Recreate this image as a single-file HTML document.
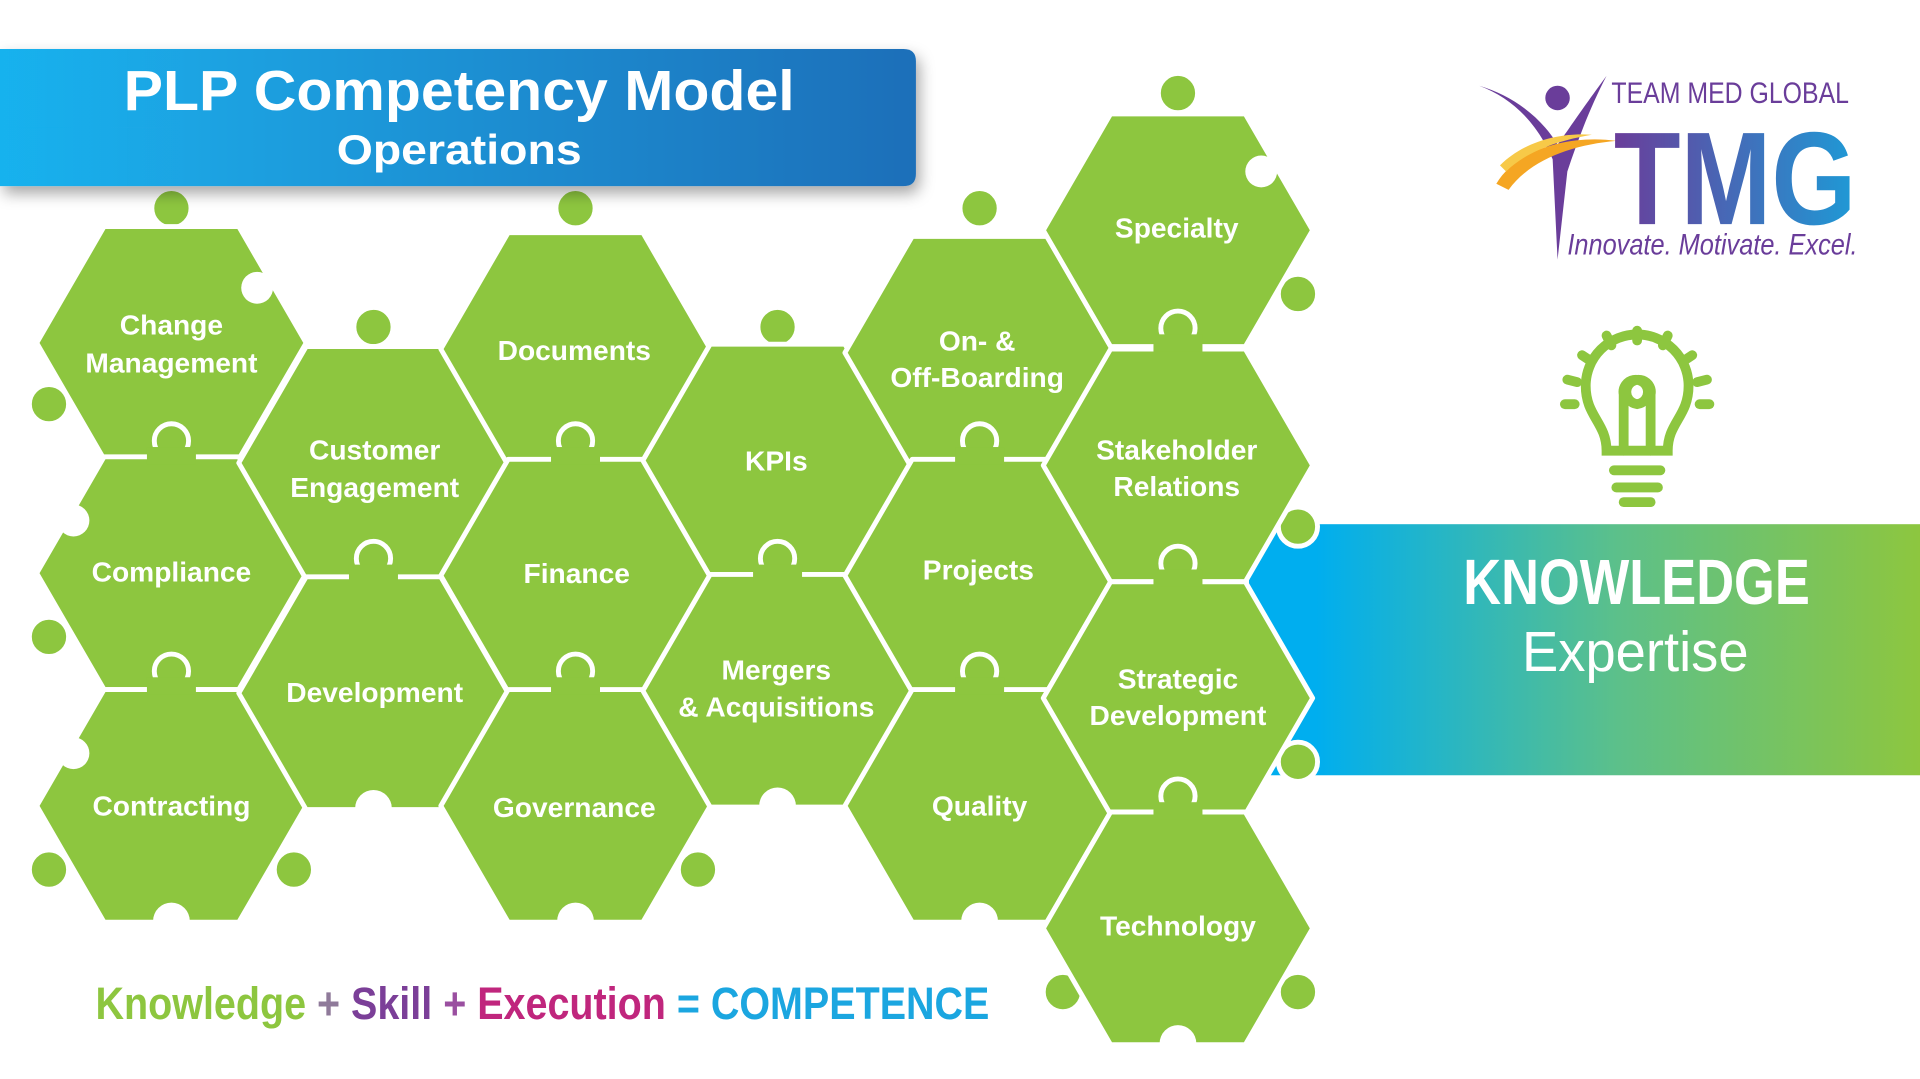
<!DOCTYPE html>
<html><head><meta charset="utf-8"><style>
html,body{margin:0;padding:0;background:#fff;}
svg{display:block}
</style></head><body>
<svg width="1920" height="1079" viewBox="0 0 1568 881" preserveAspectRatio="none" xmlns="http://www.w3.org/2000/svg">
<defs>
<linearGradient id="bn" x1="0" y1="0" x2="1" y2="0"><stop offset="0" stop-color="#19b2ee"/><stop offset="1" stop-color="#1e6fb9"/></linearGradient>
<linearGradient id="kb" x1="0" y1="0" x2="1" y2="0"><stop offset="0" stop-color="#00aeef"/><stop offset="0.1" stop-color="#00aeef"/><stop offset="0.55" stop-color="#5cc08a"/><stop offset="1" stop-color="#8dc63f"/></linearGradient>
<filter id="sh" x="-5%" y="-20%" width="115%" height="150%"><feDropShadow dx="3" dy="6" stdDeviation="6" flood-color="#000" flood-opacity="0.35"/></filter>
<linearGradient id="tm" x1="0" y1="0" x2="1" y2="0"><stop offset="0" stop-color="#6a3d9a"/><stop offset="1" stop-color="#1e9ad6"/></linearGradient>
</defs>

<rect x="1020" y="428" width="548" height="205" fill="url(#kb)"/>

<g fill="#8dc63f" stroke="#fff" stroke-width="4" stroke-linejoin="round">
<circle cx="140" cy="170" r="16"/><circle cx="470" cy="170" r="16"/><circle cx="800" cy="170" r="16"/><circle cx="962" cy="76" r="16"/>
<circle cx="305" cy="267" r="16"/><circle cx="635" cy="267" r="16"/>
<circle cx="1060" cy="240" r="16"/><circle cx="1060" cy="430" r="16"/><circle cx="1060" cy="622" r="16"/><circle cx="1060" cy="810" r="16"/>
<circle cx="40" cy="330" r="16"/><circle cx="40" cy="520" r="16"/><circle cx="40" cy="710" r="16"/>
<circle cx="240" cy="710" r="16"/><circle cx="570" cy="710" r="16"/><circle cx="868" cy="810" r="16"/>
<polygon points="30,280 85,185 195,185 250,280 195,375 85,375"/>
<polygon points="30,468 85,373 195,373 250,468 195,563 85,563"/>
<polygon points="30,658 85,563 195,563 250,658 195,753 85,753"/>
<polygon points="195,378 250,283 360,283 415,378 360,473 250,473"/>
<polygon points="195,566 250,471 360,471 415,566 360,661 250,661"/>
<polygon points="360,285 415,190 525,190 580,285 525,380 415,380"/>
<polygon points="360,470 415,375 525,375 580,470 525,565 415,565"/>
<polygon points="360,658 415,563 525,563 580,658 525,753 415,753"/>
<polygon points="525,376 580,281 690,281 745,376 690,471 580,471"/>
<polygon points="525,564 580,469 690,469 745,564 690,659 580,659"/>
<polygon points="690,288 745,193 855,193 910,288 855,383 745,383"/>
<polygon points="690,470 745,375 855,375 910,470 855,565 745,565"/>
<polygon points="690,658 745,563 855,563 910,658 855,753 745,753"/>
<polygon points="852,188 907,93 1017,93 1072,188 1017,283 907,283"/>
<polygon points="852,380 907,285 1017,285 1072,380 1017,475 907,475"/>
<polygon points="852,570 907,475 1017,475 1072,570 1017,665 907,665"/>
<polygon points="852,758 907,663 1017,663 1072,758 1017,853 907,853"/>
</g>
<g fill="#fff">
<circle cx="140" cy="752" r="15"/><circle cx="305" cy="660" r="15"/><circle cx="470" cy="752" r="15"/><circle cx="635" cy="658" r="15"/><circle cx="800" cy="752" r="15"/><circle cx="962" cy="852" r="15"/>
<circle cx="210" cy="235" r="13"/><circle cx="1030" cy="140" r="13"/><circle cx="60" cy="425" r="13"/><circle cx="60" cy="615" r="13"/>
</g>
<g fill="#8dc63f" stroke="#fff" stroke-width="4">
<circle cx="140" cy="360" r="14"/><circle cx="140" cy="548" r="14"/><circle cx="305" cy="456" r="14"/><circle cx="470" cy="360" r="14"/><circle cx="470" cy="548" r="14"/><circle cx="635" cy="456" r="14"/><circle cx="800" cy="360" r="14"/><circle cx="800" cy="548" r="14"/><circle cx="962" cy="268" r="14"/><circle cx="962" cy="460" r="14"/><circle cx="962" cy="650" r="14"/>
</g>
<g fill="#8dc63f">
<rect x="120" y="365" width="40" height="14"/><rect x="120" y="553" width="40" height="14"/><rect x="285" y="461" width="40" height="14"/><rect x="450" y="365" width="40" height="14"/><rect x="450" y="553" width="40" height="14"/><rect x="615" y="461" width="40" height="14"/><rect x="780" y="365" width="40" height="14"/><rect x="780" y="553" width="40" height="14"/><rect x="942" y="273" width="40" height="14"/><rect x="942" y="465" width="40" height="14"/><rect x="942" y="655" width="40" height="14"/>
</g>

<g fill="#fff" font-family="Liberation Sans Narrow, Liberation Sans, sans-serif" font-weight="bold" font-size="23" text-anchor="middle">
<text x="140" y="273">Change</text><text x="140" y="304">Management</text>
<text x="140" y="475">Compliance</text>
<text x="140" y="666">Contracting</text>
<text x="306" y="375">Customer</text><text x="306" y="406">Engagement</text>
<text x="306" y="573">Development</text>
<text x="469" y="294">Documents</text>
<text x="471" y="476">Finance</text>
<text x="469" y="667">Governance</text>
<text x="634" y="384">KPIs</text>
<text x="634" y="555">Mergers</text><text x="634" y="585">&amp; Acquisitions</text>
<text x="798" y="286">On- &amp;</text><text x="798" y="316">Off-Boarding</text>
<text x="799" y="473">Projects</text>
<text x="800" y="666">Quality</text>
<text x="961" y="194">Specialty</text>
<text x="961" y="375">Stakeholder</text><text x="961" y="405">Relations</text>
<text x="962" y="562">Strategic</text><text x="962" y="592">Development</text>
<text x="962" y="764">Technology</text>
</g>

<path d="M0,40 H738 Q748,40 748,50 V142 Q748,152 738,152 H0 Z" fill="url(#bn)" filter="url(#sh)"/>
<text x="375" y="90" fill="#fff" font-family="Liberation Sans, sans-serif" font-weight="bold" font-size="46" text-anchor="middle" textLength="548" lengthAdjust="spacingAndGlyphs">PLP Competency Model</text>
<text x="375" y="134" fill="#fff" font-family="Liberation Sans, sans-serif" font-weight="bold" font-size="34" text-anchor="middle" textLength="200" lengthAdjust="spacingAndGlyphs">Operations</text>

<text x="1195" y="493" fill="#fff" font-family="Liberation Sans, sans-serif" font-weight="bold" font-size="52" textLength="283" lengthAdjust="spacingAndGlyphs">KNOWLEDGE</text>
<text x="1243" y="548" fill="#fff" font-family="Liberation Sans, sans-serif" font-size="46" textLength="185" lengthAdjust="spacingAndGlyphs">Expertise</text>

<g fill="none" stroke="#8dc63f" stroke-width="8" stroke-linecap="round">
<path d="M1312,368 C1312,345 1295,340 1295,315 A42,42 0 0 1 1379,315 C1379,340 1362,345 1362,368 Z"/>
<path d="M1326,368 V322 A10,10 0 1 1 1337,330 A10,10 0 1 1 1348,322 V368"/>
<line x1="1318" y1="384" x2="1356" y2="384"/><line x1="1320" y1="398" x2="1354" y2="398"/><line x1="1326" y1="410" x2="1348" y2="410"/>
<line x1="1337" y1="270" x2="1337" y2="278"/><line x1="1312" y1="274" x2="1316" y2="282"/><line x1="1362" y1="274" x2="1358" y2="282"/>
<line x1="1292" y1="290" x2="1298" y2="294"/><line x1="1382" y1="290" x2="1376" y2="294"/>
<line x1="1280" y1="310" x2="1288" y2="312"/><line x1="1394" y1="310" x2="1386" y2="312"/>
<line x1="1278" y1="330" x2="1286" y2="330"/><line x1="1396" y1="330" x2="1388" y2="330"/>
</g>

<g>
<path d="M1208,70 C1235,80 1255,100 1268,130 L1272,212 L1280,140 C1290,110 1300,85 1312,62 C1295,85 1285,100 1272,118 C1258,95 1235,78 1208,70 Z" fill="#6a3d9a"/>
<circle cx="1272" cy="80" r="10" fill="#6a3d9a"/>
<path d="M1222,150 C1240,120 1285,110 1320,115 C1285,118 1250,130 1232,155 Z" fill="#f5a623"/>
<path d="M1225,135 C1245,115 1275,108 1300,110 C1270,115 1245,125 1230,140 Z" fill="#f7c948"/>
<text x="1316" y="84" fill="#6a3d9a" font-family="Liberation Sans, sans-serif" font-size="24" textLength="194" lengthAdjust="spacingAndGlyphs">TEAM MED GLOBAL</text>
<text x="1318" y="183" fill="url(#tm)" font-family="Liberation Sans, sans-serif" font-weight="bold" font-size="108" textLength="198" lengthAdjust="spacingAndGlyphs">TMG</text>
<text x="1280" y="208" fill="#6a3d9a" font-family="Liberation Sans, sans-serif" font-style="italic" font-size="24" textLength="237" lengthAdjust="spacingAndGlyphs">Innovate. Motivate. Excel.</text>
</g>

<text x="78" y="832" font-family="Liberation Sans, sans-serif" font-weight="bold" font-size="37" textLength="730" lengthAdjust="spacingAndGlyphs"><tspan fill="#8dc63f">Knowledge</tspan><tspan fill="#8f7a9a"> + </tspan><tspan fill="#7b3f98">Skill</tspan><tspan fill="#9a4fa0"> + </tspan><tspan fill="#c0267d">Execution</tspan><tspan fill="#1ba6e0"> = COMPETENCE</tspan></text>
</svg>
</body></html>
